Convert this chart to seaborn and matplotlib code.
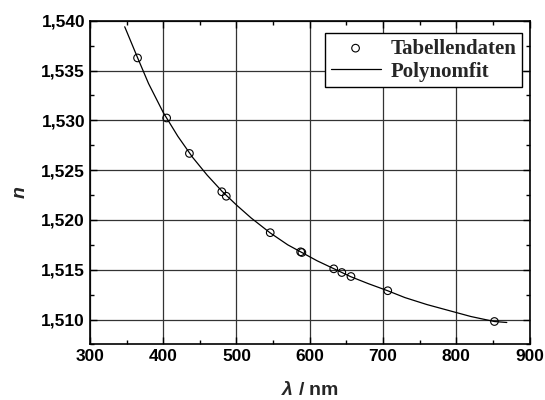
import numpy as np
import pandas as pd
import matplotlib
matplotlib.use("Agg")
import matplotlib.pyplot as plt
from matplotlib.ticker import MultipleLocator, FuncFormatter
import seaborn as sns

# Tabellendaten (wavelength in nm, refractive index)
wavelength = [365.0, 404.7, 435.8, 480.0, 486.1, 546.1, 587.6, 589.3,
              632.8, 643.8, 656.3, 706.5, 852.1]
n_table = [1.53627, 1.53024, 1.52668, 1.52283, 1.52238, 1.51872, 1.51680,
           1.51673, 1.51509, 1.51472, 1.51432, 1.51289, 1.50980]

# Polynomfit
fit_wavelength = [347.5, 365, 380, 400, 420, 440, 460, 480, 500, 520, 546,
                  570, 590, 610, 633, 656, 680, 706, 730, 760, 790, 820,
                  852, 869]
fit_n = [1.5394, 1.5363, 1.5337, 1.5308, 1.5284, 1.5263, 1.5245, 1.5229,
         1.5215, 1.5202, 1.5187, 1.5175, 1.5167, 1.5159, 1.5151, 1.5143,
         1.5136, 1.5129, 1.5122, 1.5115, 1.5109, 1.5103, 1.5098, 1.5097]

sns.set_style("ticks")
plt.rcParams["font.family"] = ["Liberation Sans", "DejaVu Sans"]
plt.rcParams["mathtext.fontset"] = "custom"
plt.rcParams["mathtext.it"] = "Liberation Sans:bold:italic"
plt.rcParams["mathtext.rm"] = "Liberation Sans:bold"
plt.rcParams["mathtext.bf"] = "Liberation Sans:bold"

df_table = pd.DataFrame({"wl": wavelength, "n": n_table})
df_fit = pd.DataFrame({"wl": fit_wavelength, "n": fit_n})

fig = plt.figure(figsize=(5.45, 4.0), dpi=100)
ax = fig.add_axes([0.165, 0.139, 0.8066, 0.809])

sns.scatterplot(data=df_table, x="wl", y="n", ax=ax, marker="o", s=30,
                facecolor="none", edgecolor="black", linewidth=0.8,
                label="Tabellendaten", zorder=3)
sns.lineplot(data=df_fit, x="wl", y="n", ax=ax, color="black", linewidth=0.9,
             sort=False, label="Polynomfit", zorder=2)

ax.set_xlim(300, 900)
ax.set_ylim(1.5075, 1.540)
ax.xaxis.set_major_locator(MultipleLocator(100))
ax.xaxis.set_minor_locator(MultipleLocator(50))
ax.yaxis.set_major_locator(MultipleLocator(0.005))
ax.yaxis.set_minor_locator(MultipleLocator(0.0025))
ax.yaxis.set_major_formatter(FuncFormatter(lambda v, p: f"{v:.3f}".replace(".", ",")))

ax.grid(True, which="major", color="#333333", linewidth=0.9)
ax.tick_params(which="both", direction="in", top=True, right=True, width=1,
               labelsize=12.5, colors="black")
ax.tick_params(which="major", length=5)
ax.tick_params(which="minor", length=3)
for lbl in ax.get_xticklabels() + ax.get_yticklabels():
    lbl.set_fontweight("bold")
for sp in ax.spines.values():
    sp.set_linewidth(1.2)
    sp.set_color("black")

ax.set_xlabel(r"$\lambda$ / nm", fontsize=14, fontweight="bold", labelpad=12)
ax.set_ylabel("n", fontsize=14, fontweight="bold", fontstyle="italic")
ax.yaxis.set_label_coords(-0.14, 0.47)

leg = ax.legend(loc="upper right", bbox_to_anchor=(0.983, 0.961),
                frameon=True, fancybox=False, borderaxespad=0,
                prop={"family": "Liberation Serif", "weight": "bold", "size": 15},
                handlelength=2.4, handletextpad=0.5, borderpad=0.25,
                labelspacing=0.15)
leg.get_frame().set_edgecolor("black")
leg.get_frame().set_linewidth(1.0)
leg.get_frame().set_alpha(1)

fig.savefig("out.png", dpi=100)
